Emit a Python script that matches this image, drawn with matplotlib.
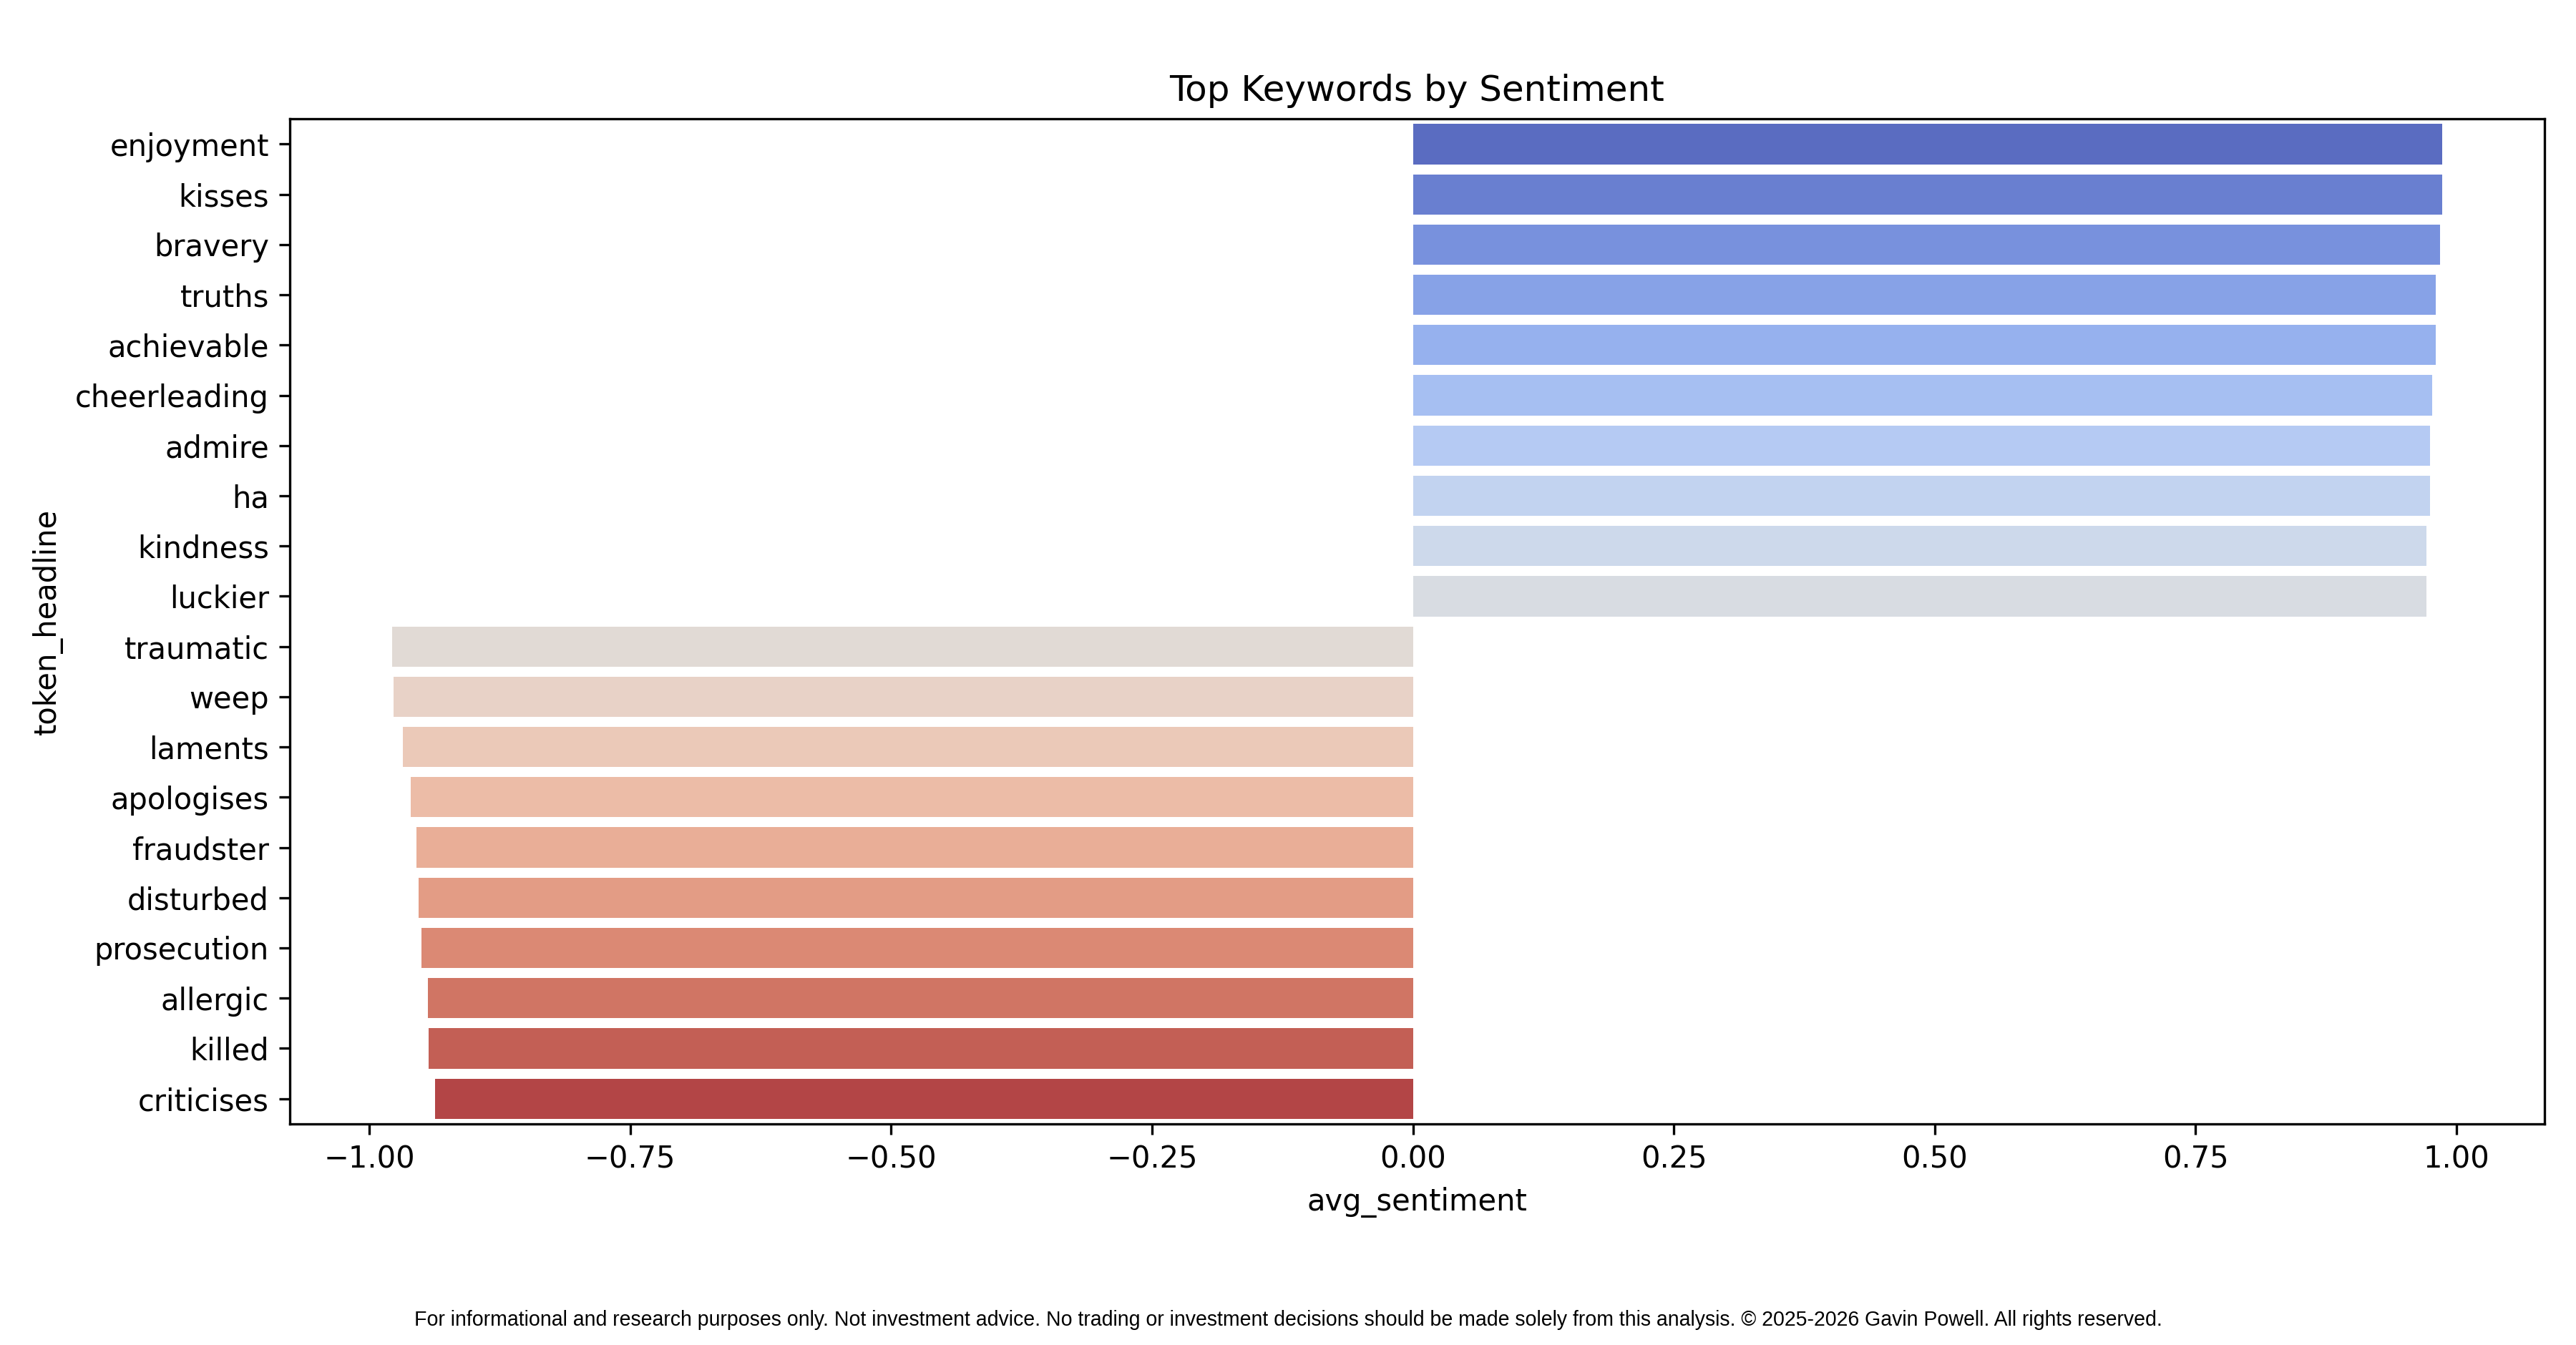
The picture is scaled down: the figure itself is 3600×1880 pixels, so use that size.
import numpy as np
import pandas as pd
import matplotlib
matplotlib.use("Agg")
import matplotlib.pyplot as plt
import seaborn as sns

# keywords and their average sentiment, top 10 positive then top 10 negative
tokens = ["enjoyment", "kisses", "bravery", "truths", "achievable",
          "cheerleading", "admire", "ha", "kindness", "luckier",
          "traumatic", "weep", "laments", "apologises", "fraudster",
          "disturbed", "prosecution", "allergic", "killed", "criticises"]
avg_sentiment = [0.986, 0.986, 0.984, 0.980, 0.980,
                 0.977, 0.975, 0.975, 0.971, 0.971,
                 -0.978, -0.977, -0.968, -0.960, -0.955,
                 -0.953, -0.950, -0.944, -0.943, -0.937]

df = pd.DataFrame({"token_headline": tokens, "avg_sentiment": avg_sentiment})

fig = plt.figure(figsize=(12, 1880 / 300), dpi=300)
ax = fig.add_axes([0.1125, 0.1645, 0.8752, 0.747])

sns.barplot(data=df, x="avg_sentiment", y="token_headline", hue="token_headline",
            palette="coolwarm", legend=False, ax=ax)

ax.set_title("Top Keywords by Sentiment", fontsize=12)
ax.set_xlabel("avg_sentiment")
ax.set_ylabel("token_headline")

fig.text(0.5, 0.0185,
         "For informational and research purposes only. Not investment advice. "
         "No trading or investment decisions should be made solely from this analysis. "
         "\u00a9 2025-2026 Gavin Powell. All rights reserved.",
         ha="center", va="center", fontsize=6.85, family="Liberation Sans")

fig.savefig("out.png", dpi=300)
